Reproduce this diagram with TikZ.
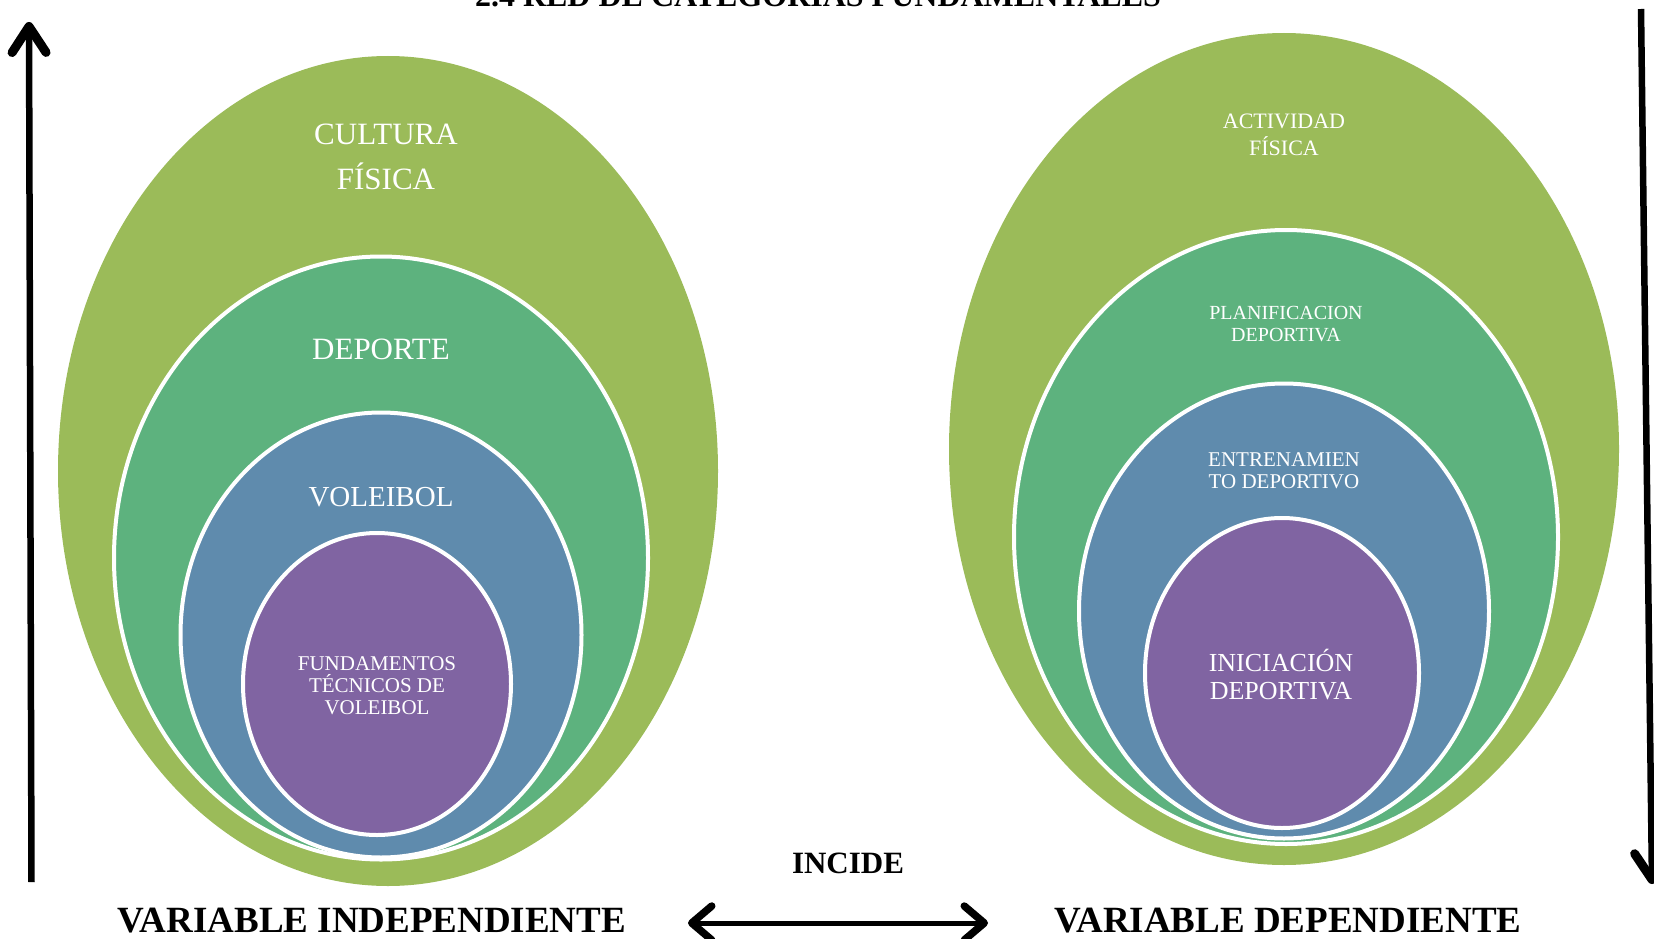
\documentclass[tikz,border=0pt]{standalone}
\usepackage{fontspec}
\setmainfont{Liberation Serif}
\usetikzlibrary{shapes.geometric,arrows.meta}
\definecolor{cgreen}{HTML}{9BBB59}
\definecolor{cteal}{HTML}{5DB27E}
\definecolor{cblue}{HTML}{5F8BAD}
\definecolor{cpurple}{HTML}{8064A2}
\tikzset{
  ell/.style={ellipse, inner sep=0pt, outer sep=0pt},
  ringell/.style={ell, draw=white, line width=4pt},
  lbl/.style={text=white, align=center, inner sep=0pt},
  biglbl/.style={font=\bfseries\fontsize{37pt}{40pt}\selectfont, anchor=base, inner sep=0pt},
  bigarrow/.style={line width=6.5pt, -{Straight Barb[length=26pt,width=34pt,round,line width=9pt]}},
  harrow/.style={line width=5pt, {Straight Barb[length=20pt,width=34pt,round,line width=7.5pt]}-{Straight Barb[length=20pt,width=34pt,round,line width=7.5pt]}},
}
\begin{document}
\begin{tikzpicture}[x=1pt,y=-1pt]
\useasboundingbox (0,0) rectangle (1654,939);
\clip (0,0) rectangle (1654,939);

% title (cut at the top, as in the reference)
\node[font=\bfseries\fontsize{32pt}{34pt}\selectfont, anchor=base, inner sep=0pt] (title) at (818,7) {2.4 RED DE CATEGORÍAS FUNDAMENTALES};

% left set
\node[ell, fill=cgreen, minimum width=660pt, minimum height=830pt] (lo) at (388,471) {};
\node[ringell, fill=cteal, minimum width=534pt, minimum height=603pt] (l2) at (381,558) {};
\node[ringell, fill=cblue, minimum width=401pt, minimum height=445pt] (l3) at (381,635) {};
\node[ringell, fill=cpurple, minimum width=268pt, minimum height=302pt] (l4) at (377,684) {};

\node[lbl, font=\fontsize{31pt}{45pt}\selectfont] (t1) at (386,157) {CULTURA\\FÍSICA};
\node[lbl, font=\fontsize{31pt}{34pt}\selectfont] (t2) at (381,349) {DEPORTE};
\node[lbl, font=\fontsize{29pt}{32pt}\selectfont] (t3) at (381,497) {VOLEIBOL};
\node[lbl, font=\fontsize{21pt}{22pt}\selectfont] (t4) at (377,686) {FUNDAMENTOS\\TÉCNICOS DE\\VOLEIBOL};

% right set
\node[ell, fill=cgreen, minimum width=670pt, minimum height=832pt] (ro) at (1284,449) {};
\node[ringell, fill=cteal, minimum width=544pt, minimum height=614pt] (r2) at (1286,537) {};
\node[ringell, fill=cblue, minimum width=410pt, minimum height=455pt] (r3) at (1284,611) {};
\node[ringell, fill=cpurple, minimum width=274pt, minimum height=310pt] (r4) at (1282,673) {};

\node[lbl, font=\fontsize{22pt}{27pt}\selectfont] (s1) at (1284,135) {ACTIVIDAD\\FÍSICA};
\node[lbl, font=\fontsize{20pt}{22pt}\selectfont] (s2) at (1286,324) {PLANIFICACION\\DEPORTIVA};
\node[lbl, font=\fontsize{21pt}{22pt}\selectfont] (s3) at (1284,471) {ENTRENAMIEN\\TO DEPORTIVO};
\node[lbl, font=\fontsize{26pt}{28pt}\selectfont] (s4) at (1281,675) {INICIACIÓN\\DEPORTIVA};

% vertical arrows
\coordinate (la0) at (31.5,882);
\coordinate (la1) at (29,22);
\draw[bigarrow] (la0) -- (la1);
\coordinate (ra0) at (1641,9);
\coordinate (ra1) at (1652,884);
\draw[bigarrow] (ra0) -- (ra1);

% bottom labels
\node[font=\bfseries\fontsize{31pt}{33pt}\selectfont, anchor=base, inner sep=0pt] (inc) at (848,873) {INCIDE};
\node[biglbl] (vi) at (372,932) {VARIABLE INDEPENDIENTE};
\node[biglbl] (vd) at (1288,932) {VARIABLE DEPENDIENTE};

\coordinate (ha0) at (688,923);
\coordinate (ha1) at (988,923);
\draw[harrow] (ha0) -- (ha1);
\end{tikzpicture}
\end{document}
